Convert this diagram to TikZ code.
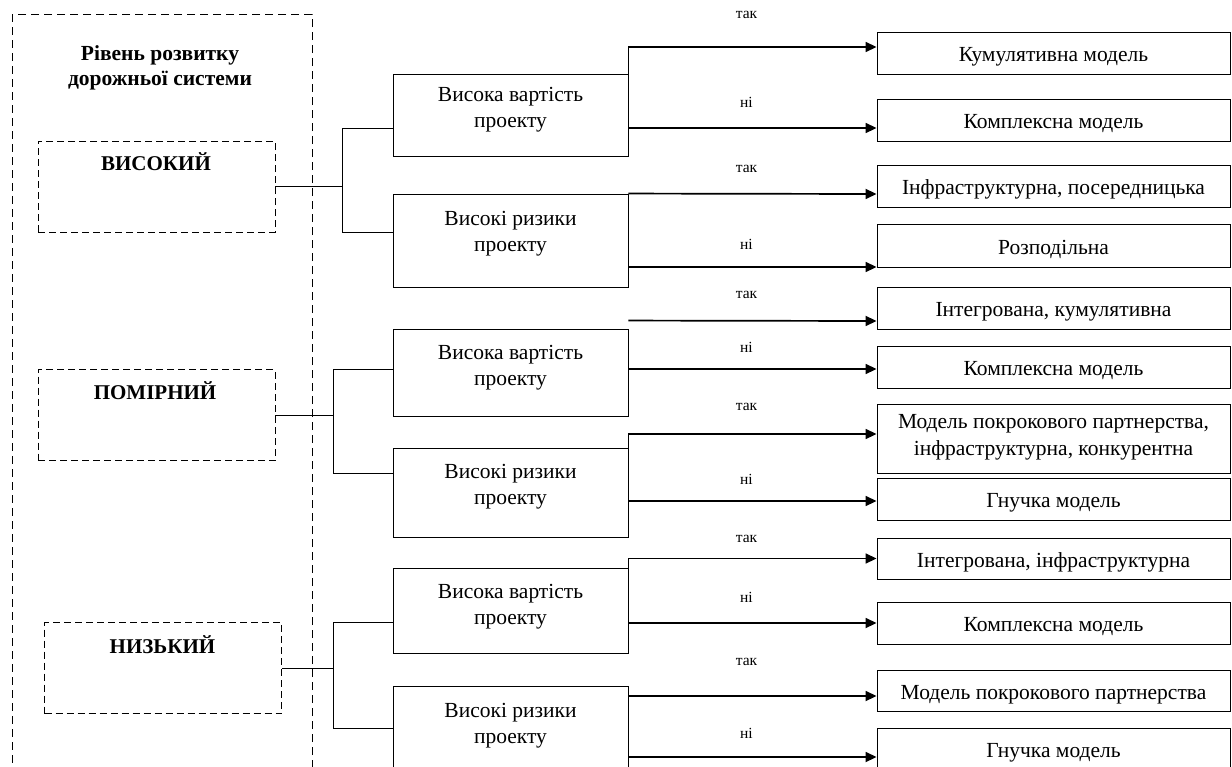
\documentclass[tikz,border=0pt]{standalone}
\usepackage{fontspec}
\setmainfont{Liberation Serif}
\usetikzlibrary{arrows.meta}

\begin{document}
\begin{tikzpicture}[x=1pt,y=-1pt,
    outerbox/.style={dash pattern=on 8pt off 5pt,line width=0.8pt},
    lvlbox/.style={draw,dash pattern=on 7pt off 4pt,line width=0.8pt,minimum width=237pt,minimum height=91pt,inner sep=0pt},
    lvlname/.style={font=\fontsize{21}{24}\selectfont\bfseries},
    decbox/.style={draw,line width=0.9pt,minimum width=235pt,inner sep=0pt},
    dectext/.style={align=center,font=\fontsize{21.5}{26}\selectfont},
    resbox/.style={draw,line width=0.9pt,minimum width=353pt,minimum height=42pt,inner sep=0pt,align=center,
      text height=17pt,text depth=0pt,font=\fontsize{21.5}{27}\selectfont},
    link/.style={line width=0.8pt},
    choice/.style={line width=1.7pt,-{Triangle[length=11pt,width=10pt]}},
    ans/.style={font=\fontsize{15.5}{17}\selectfont,xshift=-6pt}]
    \useasboundingbox (0,0) rectangle (1232,766);
    \clip (0,0) rectangle (1232,766);

    % left column
    \draw[outerbox] (12,14) rectangle (312,800);
    \node[align=center,font=\fontsize{21.5}{25}\selectfont\bfseries] (ttl) at (160,68) {Рівень розвитку\\дорожньої системи};

    \node[lvlbox] (high) at (156.5,186.5) {};
    \node[lvlname] (highname) at (156,162) {ВИСОКИЙ};
    \node[lvlbox] (mid) at (156.5,415) {};
    \node[lvlname] (midname) at (155,391) {ПОМІРНИЙ};
    \node[lvlbox] (low) at (163,668) {};
    \node[lvlname] (lowname) at (162.5,645) {НИЗЬКИЙ};

    % criteria
    \node[decbox,minimum height=82pt] (d1) at (510.5,115) {};
    \node[dectext] (d1t) at (510.5,110) {Висока вартість\\проекту};
    \node[decbox,minimum height=93pt] (d2) at (510.5,240.5) {};
    \node[dectext] (d2t) at (510.5,234) {Високі ризики\\проекту};
    \node[decbox,minimum height=87pt] (d3) at (510.5,372.5) {};
    \node[dectext] (d3t) at (510.5,368) {Висока вартість\\проекту};
    \node[decbox,minimum height=89pt] (d4) at (510.5,492.5) {};
    \node[dectext] (d4t) at (510.5,487) {Високі ризики\\проекту};
    \node[decbox,minimum height=85pt] (d5) at (510.5,610.5) {};
    \node[dectext] (d5t) at (510.5,607) {Висока вартість\\проекту};
    \node[decbox,minimum height=88pt] (d6) at (510.5,730) {};
    \node[dectext] (d6t) at (510.5,726) {Високі ризики\\проекту};

    % models
    \node[resbox] (r1) at (1053.5,53) {Кумулятивна модель};
    \node[resbox] (r2) at (1053.5,120) {Комплексна модель};
    \node[resbox] (r3) at (1053.5,186) {Інфраструктурна, посередницька};
    \node[resbox,minimum height=43pt] (r4) at (1053.5,245.5) {Розподільна};
    \node[resbox] (r5) at (1053.5,308) {Інтегрована, кумулятивна};
    \node[resbox] (r6) at (1053.5,367) {Комплексна модель};
    \node[resbox,minimum height=69pt,text height=33pt] (r7) at (1053.5,438.5) {Модель покрокового партнерства,\\інфраструктурна, конкурентна};
    \node[resbox] (r8) at (1053.5,499) {Гнучка модель};
    \node[resbox,minimum height=41pt] (r9) at (1053.5,558.5) {Інтегрована, інфраструктурна};
    \node[resbox] (r10) at (1053.5,623) {Комплексна модель};
    \node[resbox,minimum height=41pt] (r11) at (1053.5,690.5) {Модель покрокового партнерства};
    \node[resbox] (r12) at (1053.5,749) {Гнучка модель};

    % brackets
    \draw[link] (high.east) -- ++(67,0) coordinate (hj);
    \draw[link] (hj) |- ([yshift=-13pt]d1.west);
    \draw[link] (hj) |- ([yshift=8.5pt]d2.west);
    \draw[link] (mid.east) -- ++(58,0) coordinate (mj);
    \draw[link] (mj) |- ([yshift=3.5pt]d3.west);
    \draw[link] (mj) |- ([yshift=19.5pt]d4.west);
    \draw[link] (low.east) -- ++(51,0) coordinate (lj);
    \draw[link] (lj) |- ([yshift=-11.5pt]d5.west);
    \draw[link] (lj) |- ([yshift=2pt]d6.west);

    % yes / no arrows
    \draw[choice] ([yshift=32pt]d1.east) |- ([yshift=6pt]r1.west) node[ans,pos=0.75,yshift=32pt] {так};
    \draw[choice] ([yshift=-13pt]d1.east) -- ([yshift=-8pt]r2.west) node[ans,midway,yshift=26pt] {ні};
    \draw[choice] (d2.north east) -- ([yshift=-8pt]r3.west) node[ans,midway,yshift=25pt] {так};
    \draw[choice] ([yshift=-26.5pt]d2.east) -- ([yshift=-21.5pt]r4.west) node[ans,midway,yshift=23pt] {ні};
    \draw[choice] ([yshift=8pt]d3.north east) -- ([yshift=-13pt]r5.west) node[ans,midway,yshift=26pt] {так};
    \draw[choice] ([yshift=3.5pt]d3.east) -- ([yshift=-2pt]r6.west) node[ans,midway,yshift=22pt] {ні};
    \draw[choice] (d4.north east) |- ([yshift=4.5pt]r7.west) node[ans,pos=0.75,yshift=27pt] {так};
    \draw[choice] ([yshift=-8.5pt]d4.east) -- ([yshift=-2pt]r8.west) node[ans,midway,yshift=22pt] {ні};
    \draw[choice] (d5.north east) |- (r9.west) node[ans,pos=0.75,yshift=20pt] {так};
    \draw[choice] ([yshift=-12.5pt]d5.east) -- (r10.west) node[ans,midway,yshift=26pt] {ні};
    \draw[choice] ([yshift=34pt]d6.east) -- ([yshift=-5.5pt]r11.west) node[ans,midway,yshift=34pt] {так};
    \draw[choice] ([yshift=-27pt]d6.east) -- ([yshift=-8pt]r12.west) node[ans,midway,yshift=24pt] {ні};
  \end{tikzpicture}
\end{document}
